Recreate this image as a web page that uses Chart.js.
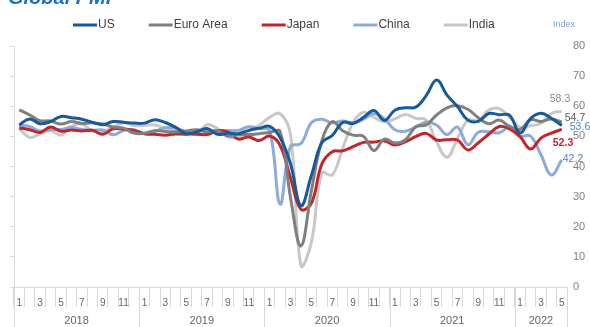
<!DOCTYPE html>
<html>
<head>
<meta charset="utf-8">
<script src="https://cdn.jsdelivr.net/npm/chart.js@4"></script>
<style>
	html, body { margin:0; padding:0; background:#fff; }
	#wrap { width:590px; height:327px; }
</style>
</head>
<body>
<div id="wrap"><canvas id="pmi" width="590" height="327"></canvas></div>
<script>
// monthly composite PMI, Jan 2018 - May 2022
var years = ["2018", "2019", "2020", "2021", "2022"];
var monthsInYear = [12, 12, 12, 12, 5];

var us = [53.8,55.8,54.2,54.9,56.6,56.2,55.7,54.7,53.9,54.9,54.7,54.4,
	54.4,55.5,54.6,53.0,50.9,51.5,52.6,50.7,51.0,50.9,52.0,52.7,
	53.3,49.6,40.9,27.0,37.0,47.9,50.3,54.6,54.3,56.3,58.6,55.3,
	58.7,59.5,59.7,63.5,68.7,63.7,59.9,55.4,55.0,57.6,57.2,57.0,
	51.1,55.9,57.7,56.0,53.6];
var euro = [58.8,57.1,55.2,55.1,54.1,54.9,54.3,54.5,54.1,53.1,52.7,51.1,
	51.0,51.9,51.6,51.5,51.8,52.2,51.5,51.9,50.1,50.6,50.6,50.9,
	51.3,51.6,29.7,13.6,31.9,48.5,54.9,51.9,50.4,50.0,45.3,49.1,
	47.8,48.8,53.2,53.8,57.1,59.5,60.2,59.0,56.2,54.2,55.4,53.3,
	52.3,55.5,54.9,55.8,54.7];
var japan = [52.8,52.2,51.3,53.1,51.7,52.1,51.8,52.0,50.7,52.5,52.4,52.0,
	50.9,50.7,50.4,50.8,50.7,50.8,50.6,51.9,51.5,49.1,49.8,48.6,
	50.1,47.0,36.2,25.8,27.8,40.8,44.9,45.2,46.6,48.0,48.1,48.5,
	47.1,48.2,49.9,51.0,48.8,48.9,48.8,45.5,47.9,50.7,53.3,52.5,
	49.9,45.8,49.4,51.1,52.3];
var china = [53.7,53.3,51.8,52.3,52.3,53.0,52.3,52.0,52.1,50.5,51.9,52.2,
	50.9,51.6,52.9,52.7,51.5,50.6,50.9,51.6,51.9,52.0,53.2,52.6,
	51.9,27.5,46.7,47.6,54.5,55.7,54.5,55.1,54.5,55.7,57.5,55.8,
	52.2,51.7,53.1,54.7,53.8,50.6,53.1,47.2,51.4,51.5,51.2,53.0,
	50.1,50.1,43.9,37.2,42.2];
var india = [52.5,49.7,50.8,51.9,50.4,53.3,54.1,51.9,51.6,53.0,54.5,53.6,
	53.6,53.8,52.7,51.7,51.7,50.8,53.9,52.6,49.8,49.6,51.7,53.7,
	56.3,57.6,50.6,7.2,14.8,37.8,37.2,46.0,54.6,58.0,56.3,54.9,
	55.8,57.3,56.0,55.4,48.1,43.1,49.2,55.4,55.3,58.7,59.2,56.4,
	53.0,53.5,54.3,57.6,58.3];

var seriesNames = ["US", "Euro Area", "Japan", "China", "India"];
var seriesColors = ["#17599a", "#7f7f7f", "#c0272d", "#8eaadb", "#c8c8c8"];
// end-of-line labels: text, colour, bold, dx, dy
var endLabels = [
	["53.6", "#4a86c5", false, 8, 2],
	["54.7", "#595959", false, 3, -4],
	["52.3", "#c0272d", true, -9, 14],
	["42.2", "#5a7dc8", false, 1, -1],
	["58.3", "#8c8c8c", false, -12, -12]
];

var labels = [];
for (var yi = 0; yi < years.length; yi++)
	for (var m = 1; m <= monthsInYear[yi]; m++) labels.push(String(m));

var FONT = "Arial, 'Liberation Sans', sans-serif";

var decor = {
	id: "decor",
	afterDraw: function(chart) {
		var ctx = chart.ctx;
		var x = chart.scales.x;
		var bw = x.getPixelForValue(1) - x.getPixelForValue(0);
		var axisY = x.top;
		ctx.save();

		// cut-off title at the very top
		ctx.fillStyle = "#1f6fc5";
		ctx.font = "italic bold 20px " + FONT;
		ctx.textBaseline = "alphabetic";
		ctx.textAlign = "left";
		ctx.fillText("Global PMI", 8, 4);

		// legend
		ctx.font = "12px " + FONT;
		ctx.textBaseline = "middle";
		var lx = 73;
		for (var i = 0; i < seriesNames.length; i++) {
			ctx.strokeStyle = seriesColors[i];
			ctx.lineWidth = 3;
			ctx.beginPath();
			ctx.moveTo(lx, 25);
			ctx.lineTo(lx + 24, 25);
			ctx.stroke();
			ctx.fillStyle = "#404040";
			ctx.fillText(seriesNames[i], lx + 25, 25);
			lx += 25 + ctx.measureText(seriesNames[i]).width + 34;
		}

		ctx.fillStyle = "#7f9fd0";
		ctx.font = "9px " + FONT;
		ctx.fillText("Index", 553, 25);

		// year separators and labels
		ctx.strokeStyle = "#d9d9d9";
		ctx.lineWidth = 1;
		ctx.fillStyle = "#666666";
		ctx.font = "11px " + FONT;
		ctx.textAlign = "center";
		var idx = 0;
		for (var y = 0; y < years.length; y++) {
			var x0 = x.getPixelForValue(idx) - bw / 2;
			var x1 = x.getPixelForValue(idx + monthsInYear[y] - 1) + bw / 2;
			ctx.beginPath();
			ctx.moveTo(Math.round(x0) + 0.5, axisY);
			ctx.lineTo(Math.round(x0) + 0.5, 327);
			if (y == years.length - 1) {
				ctx.moveTo(Math.round(x1) + 0.5, axisY);
				ctx.lineTo(Math.round(x1) + 0.5, 327);
			}
			ctx.stroke();
			ctx.fillText(years[y], (x0 + x1) / 2, 321);
			idx += monthsInYear[y];
		}

		// last-value labels
		ctx.textAlign = "left";
		for (var d = 0; d < endLabels.length; d++) {
			var meta = chart.getDatasetMeta(d);
			var pt = meta.data[meta.data.length - 1];
			var lab = endLabels[d];
			ctx.fillStyle = lab[1];
			ctx.font = (lab[2] ? "bold " : "") + "10.5px " + FONT;
			ctx.fillText(lab[0], pt.x + lab[3], pt.y + lab[4]);
		}
		ctx.restore();
	}
};

var allData = [us, euro, japan, china, india];
var datasets = [];
for (var i = 0; i < allData.length; i++) {
	datasets.push({
		label: seriesNames[i],
		data: allData[i],
		borderColor: seriesColors[i],
		backgroundColor: seriesColors[i],
		borderWidth: 3,
		pointRadius: 0,
		tension: 0.4,
		yAxisID: "y"
	});
}

var chart = new Chart(document.getElementById("pmi").getContext("2d"), {
	type: "line",
	data: { labels: labels, datasets: datasets },
	options: {
		responsive: false,
		animation: false,
		devicePixelRatio: 1,
		layout: { padding: { left: 10, right: 3, top: 46, bottom: 18 } },
		plugins: {
			legend: { display: false },
			tooltip: { enabled: false }
		},
		scales: {
			x: {
				offset: true,
				grid: { offset: true, drawOnChartArea: false, tickLength: 20, color: "#d9d9d9" },
				border: { display: true, color: "#d9d9d9" },
				ticks: {
					autoSkip: false, maxRotation: 0, padding: -10,
					color: "#666666", font: { size: 10, family: FONT },
					callback: function(val, i) { return i % 2 == 0 ? labels[i] : ""; }
				},
				afterFit: function(axis) { axis.height = 22; }
			},
			y: {
				position: "right",
				min: 0, max: 80,
				grid: { display: false, drawTicks: false },
				border: { display: false },
				ticks: { stepSize: 10, padding: 6, color: "#808080", font: { size: 11, family: FONT } },
				afterFit: function(axis) { axis.width = 20; }
			},
			yL: {
				position: "left",
				min: 0, max: 80,
				grid: { drawOnChartArea: false, tickLength: 4, color: "#d9d9d9" },
				border: { display: true, color: "#d9d9d9" },
				ticks: { display: false, stepSize: 10 }
			}
		}
	},
	plugins: [decor]
});
</script>
</body>
</html>
